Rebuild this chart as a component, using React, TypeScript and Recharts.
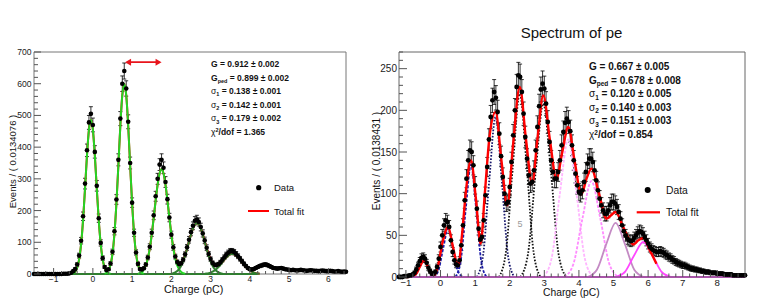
import React from "react";
import {
  ComposedChart,
  ErrorBar,
  Line,
  ReferenceArea,
  ReferenceLine,
  Scatter,
  XAxis,
  YAxis,
} from "recharts";

const FONT = '"Liberation Sans", Arial, Helvetica, sans-serif';
const STEP = 0.05;

// ---------- left panel (gain fit, green components) ----------
const L_DATA_START = -1.5;
const L_DATA = [
  0, 0, 0, 0, 0, 0, 0, 0, 0, 0,
  0, 0, 0, 0, 0, 1, 1, 1, 2, 4,
  9, 16, 30, 58, 105, 182, 285, 390, 478, 505,
  470, 385, 278, 176, 98, 50, 22, 12, 15, 33,
  70, 135, 235, 360, 490, 600, 640, 585, 480, 350,
  225, 130, 68, 32, 16, 14, 18, 30, 52, 86,
  130, 185, 245, 300, 345, 360, 335, 290, 236, 178,
  124, 84, 55, 38, 31, 34, 45, 62, 84, 108,
  132, 152, 168, 172, 164, 148, 128, 106, 83, 63,
  47, 35, 29, 28, 31, 37, 45, 53, 61, 67,
  72, 72, 69, 63, 56, 48, 40, 32, 25, 19,
  15, 14, 16, 19, 22, 25, 27, 29, 30, 28,
  25, 22, 19, 18, 17, 18, 19, 17, 15, 14,
  13, 12, 13, 12, 11, 12, 13, 12, 11, 10,
  11, 12, 11, 10, 10, 9, 10, 11, 10, 9,
  9, 10, 9, 8, 8, 9, 8, 7, 8, 7,
];

const L_FIT_START = -0.6;
const L_FIT = [
  0.2, 0.7, 2.4, 7.3, 19.5, 46, 94, 170, 269, 374,
  455, 486, 455, 374, 269, 170, 94, 46, 21, 11,
  14, 30, 64, 127, 223, 343, 468, 564, 600, 564,
  468, 343, 223, 127, 64, 30, 14, 11, 15, 27,
  49, 81, 124, 177, 232, 282, 317, 330, 317, 282,
  232, 178, 125, 84, 54, 36, 30, 33, 43, 59,
  79, 102, 124, 143, 156, 160, 156, 143, 125, 103,
  81, 61, 45, 33, 27, 25, 27, 32, 38, 45,
  52, 58, 62, 63, 62, 58, 52, 45, 37, 29,
  22, 16, 11, 7.2, 4.5, 2.8, 1.6, 0.9,
];

const L_PED_START = -0.55;
const L_PED = [0.7, 2.4, 7.3, 19.5, 46, 94, 170, 269, 374, 455, 486, 455, 374, 269, 170, 94, 46, 19.5, 7.3, 2.4, 0.7];
const L_PE1_START = 0.3;
const L_PE1 = [1.2, 4, 11.4, 29, 64, 127, 223, 343, 468, 564, 600, 564, 468, 343, 223, 127, 64, 29, 11.4, 4, 1.2];
const L_PE2_START = 1.15;
const L_PE2 = [1.2, 2.9, 6.6, 14, 27, 49, 81, 124, 177, 232, 282, 317, 330, 317, 282, 232, 177, 124, 81, 49, 27, 14, 6.6, 2.9, 1.2];
const L_PE3_START = 2.0;
const L_PE3 = [1.3, 2.7, 5.2, 9.4, 16, 26, 40, 58, 79, 102, 124, 143, 156, 160, 156, 143, 124, 102, 79, 58, 40, 26, 16, 9.4, 5.2, 2.7, 1.3];
const L_PE4_START = 2.85;
const L_PE4 = [0.9, 1.6, 2.8, 4.5, 7.2, 11, 16, 22, 29, 37, 45, 52, 58, 62, 63, 62, 58, 52, 45, 37, 29, 22, 16, 11, 7.2, 4.5, 2.8, 1.6, 0.9];
const L_BASE_X = [-0.6, 4.2];

const L_STATS = [
  ["G", "", " = 0.912 ± 0.002"],
  ["G", "ped", " = 0.899 ± 0.002"],
  ["σ", "1", " = 0.138 ± 0.001"],
  ["σ", "2", " = 0.142 ± 0.001"],
  ["σ", "3", " = 0.179 ± 0.002"],
  ["χ", "^2", "/dof = 1.365"],
];
const L_ARROW_X = [0.82, 1.75];
const L_ARROW_Y = 668;

// ---------- right panel (spectrum of pe) ----------
const R_DATA_START = -1.2;
const R_DATA = [
  0, 0, 0, 1, 1, 1, 2, 2, 3, 5,
  9, 14, 19, 23, 24, 22, 17, 11, 7, 4,
  4, 6, 12, 22, 36, 50, 62, 68, 66, 60,
  44, 30, 20, 15, 14, 20, 38, 62, 92, 118,
  140, 152, 150, 134, 110, 82, 58, 45, 48, 68,
  98, 132, 165, 192, 212, 222, 215, 198, 172, 145,
  120, 100, 88, 90, 108, 138, 170, 200, 228, 242,
  240, 222, 196, 168, 142, 122, 112, 114, 128, 152,
  180, 205, 225, 232, 226, 208, 186, 162, 140, 126,
  118, 118, 126, 140, 158, 174, 185, 190, 186, 175,
  158, 140, 124, 110, 102, 100, 104, 114, 126, 136,
  142, 142, 138, 128, 116, 104, 94, 86, 80, 76,
  76, 80, 86, 90, 90, 88, 84, 78, 70, 62,
  55, 50, 46, 44, 43, 44, 47, 50, 53, 55,
  54, 52, 48, 44, 40, 36, 34, 32, 31, 30,
  30, 31, 30, 29, 27, 26, 24, 23, 21, 20,
  18, 17, 16, 15, 14, 14, 13, 12, 11, 10,
  10, 9, 9, 8, 8, 7, 7, 6, 6, 6,
  5, 5, 5, 5, 4, 4, 4, 4, 3, 3,
  3, 3, 3, 2, 2, 2, 2, 2, 2, 2,
  2,
];

const R_FIT = [
  [-1.0, 0], [-0.8, 0.5], [-0.7, 4], [-0.6, 12], [-0.48, 20], [-0.36, 12], [-0.26, 4],
  [-0.18, 2], [-0.08, 12], [0.05, 40], [0.22, 60], [0.36, 36], [0.51, 13], [0.62, 50],
  [0.74, 105], [0.88, 140], [1.02, 95], [1.16, 40], [1.28, 100], [1.42, 170], [1.59, 198],
  [1.76, 140], [1.93, 86], [2.1, 160], [2.29, 228], [2.47, 165], [2.65, 112], [2.8, 165],
  [2.97, 218], [3.16, 165], [3.35, 118], [3.52, 150], [3.69, 180], [3.88, 138], [4.07, 99],
  [4.22, 118], [4.36, 130], [4.58, 100], [4.8, 70], [4.93, 74], [5.06, 78], [5.3, 58],
  [5.57, 39], [5.72, 44], [5.86, 47], [6.05, 32], [6.24, 16],
];

const R_PE0 = [[-0.84, 0], [-0.72, 2.7], [-0.6, 12.1], [-0.48, 20], [-0.36, 12.1], [-0.24, 2.7], [-0.12, 0]];
const R_PE1 = [[-0.2, 0], [-0.06, 7.8], [0.08, 35.2], [0.22, 58], [0.36, 35.2], [0.5, 7.8], [0.64, 0]];
const R_PE2 = [[0.43, 0], [0.58, 18.2], [0.73, 81.9], [0.88, 135], [1.03, 81.9], [1.18, 18.2], [1.33, 0]];
const R_PE3 = [[1.05, 0], [1.23, 25.9], [1.41, 116.5], [1.59, 192], [1.77, 116.5], [1.95, 25.9], [2.13, 0]];
const R_PE4 = [[1.69, 0], [1.89, 29.7], [2.09, 133.5], [2.29, 220], [2.49, 133.5], [2.69, 29.7], [2.89, 0]];
const R_PE5 = [[2.31, 0], [2.53, 28.1], [2.75, 126.3], [2.97, 208], [3.19, 126.3], [3.41, 28.1], [3.63, 0]];
const R_PE6 = [[2.97, 0], [3.21, 22.3], [3.45, 100.2], [3.69, 165], [3.93, 100.2], [4.17, 22.3], [4.41, 0]];
const R_PE7 = [[3.58, 0], [3.84, 15.5], [4.1, 69.8], [4.36, 115], [4.62, 69.8], [4.88, 15.5], [5.14, 0]];
const R_PE8 = [[4.25, 0], [4.52, 8.8], [4.79, 39.5], [5.06, 65], [5.33, 39.5], [5.6, 8.8], [5.87, 0]];
const R_PE9 = [[5.05, 0], [5.32, 5.7], [5.59, 25.5], [5.86, 42], [6.13, 25.5], [6.4, 5.7], [6.67, 0]];
const R_BASE_X = [-1.2, 8.8];

const R_STATS = [
  ["G", "", " = 0.667 ± 0.005"],
  ["G", "ped", " = 0.678 ± 0.008"],
  ["σ", "1", " = 0.120 ± 0.005"],
  ["σ", "2", " = 0.140 ± 0.003"],
  ["σ", "3", " = 0.151 ± 0.003"],
  ["χ", "^2", "/dof = 0.854"],
];

// ---------- helpers ----------
const r3 = (v: number) => Math.round(v * 1000) / 1000;
const fromGrid = (start: number, ys: number[]) =>
  ys.map((y, i) => ({ x: r3(start + i * STEP), y }));
const fromPairs = (list: number[][]) => list.map(([x, y]) => ({ x, y }));
const withErr = (pts: { x: number; y: number }[]) =>
  pts.map((p) => ({ ...p, err: Math.sqrt(p.y) }));
const flat = (xs: number[]) => xs.map((x) => ({ x, y: 0 }));
const range = (from: number, count: number, step: number) =>
  Array.from({ length: count }, (_, i) => r3(from + i * step));

const leftPts = withErr(fromGrid(L_DATA_START, L_DATA));
const leftFit = fromGrid(L_FIT_START, L_FIT);
const leftComps = [
  fromGrid(L_PED_START, L_PED),
  fromGrid(L_PE1_START, L_PE1),
  fromGrid(L_PE2_START, L_PE2),
  fromGrid(L_PE3_START, L_PE3),
  fromGrid(L_PE4_START, L_PE4),
];
const leftCompColors = ["#25d425", "#25d425", "#25d425", "#2f7f2f", "#2f7f2f"];

const rightPts = withErr(fromGrid(R_DATA_START, R_DATA));
const rightFit = fromPairs(R_FIT);
const rightComps = [R_PE0, R_PE1, R_PE2, R_PE3, R_PE4, R_PE5, R_PE6, R_PE7, R_PE8, R_PE9].map(fromPairs);
const rightCompStyles = [
  { stroke: "#1c1caa", dash: "3 1.5" },
  { stroke: "#1c1caa", dash: "3 1.5" },
  { stroke: "#1c1caa", dash: "3 1.5" },
  { stroke: "#16166a", dash: "1.6 1.6" },
  { stroke: "#111111", dash: "1.6 1.6" },
  { stroke: "#111111", dash: "1.6 1.6" },
  { stroke: "#ffb6ff", dash: "3 1.5" },
  { stroke: "#ff8cff", dash: "3 1.5" },
  { stroke: "#c48ac4", dash: undefined },
  { stroke: "#ff48ff", dash: undefined },
];

const fmt = (v: number) => (v < 0 ? `\u2212${Math.abs(v)}` : `${v}`);
const isMult = (v: number, m: number) => Math.abs(v / m - Math.round(v / m)) < 1e-6;

type TickOpts = { major: number; size: number; len: number; minor: number; gap: number };

const yTick = (o: TickOpts) => (props: any) => {
  const { x, y, payload } = props;
  const v = payload.value;
  const major = isMult(v, o.major);
  return (
    <g>
      <line x1={x} x2={x + (major ? o.len : o.minor)} y1={y} y2={y} stroke="#555" strokeWidth={1} />
      {major && (
        <text x={x - o.gap} y={y} dy="0.35em" textAnchor="end" fontSize={o.size} fontFamily={FONT} fill="#222">
          {fmt(v)}
        </text>
      )}
    </g>
  );
};

const xTick = (o: TickOpts) => (props: any) => {
  const { x, y, payload } = props;
  const v = payload.value;
  const major = isMult(v, o.major);
  return (
    <g>
      <line x1={x} x2={x} y1={y} y2={y - (major ? o.len : o.minor)} stroke="#555" strokeWidth={1} />
      {major && (
        <text x={x} y={y + o.gap} dy="0.71em" textAnchor="middle" fontSize={o.size} fontFamily={FONT} fill="#222">
          {fmt(v)}
        </text>
      )}
    </g>
  );
};

const dotShape = (r: number) => (p: any) => <circle cx={p.cx} cy={p.cy} r={r} fill="#000" />;

const Arrow = (p: any) => {
  const { x1, y1, x2 } = p;
  const h = 6;
  const w = 3.5;
  return (
    <g>
      <line x1={x1 + 2} x2={x2 - 2} y1={y1} y2={y1} stroke="#e8141c" strokeWidth={1.6} />
      <polygon points={`${x1},${y1} ${x1 + h},${y1 - w} ${x1 + h},${y1 + w}`} fill="#e8141c" />
      <polygon points={`${x2},${y1} ${x2 - h},${y1 - w} ${x2 - h},${y1 + w}`} fill="#e8141c" />
    </g>
  );
};

function Stats({ x, y, step, size, lines }: { x: number; y: number; step: number; size: number; lines: string[][] }) {
  return (
    <g fontFamily={FONT} fontSize={size} fontWeight="bold" fill="#111">
      {lines.map(([base, idx, rest], i) => {
        const sup = idx.startsWith("^");
        const small = size * 0.65;
        const shift = sup ? -size * 0.3 : size * 0.25;
        return (
          <text key={i} x={x} y={y + i * step}>
            <tspan fontWeight={base === "G" ? "bold" : "normal"}>{base}</tspan>
            {idx && (
              <tspan fontSize={small} dy={shift}>
                {sup ? idx.slice(1) : idx}
              </tspan>
            )}
            <tspan dy={idx ? -shift : 0}>{rest}</tspan>
          </text>
        );
      })}
    </g>
  );
}

const L_XTICKS = range(-1.4, 40, 0.2);
const L_YTICKS = range(0, 36, 20);
const R_XTICKS = range(-1.2, 51, 0.2);
const R_YTICKS = range(0, 28, 10);

export default function App() {
  return (
    <div style={{ position: "absolute", left: 0, top: 0, width: 763, height: 305, background: "#fff" }}>
      <div style={{ position: "absolute", left: 0, top: 0 }}>
        <ComposedChart width={360} height={305} margin={{ top: 52, right: 14, bottom: 30, left: 33 }}>
          <XAxis
            type="number"
            dataKey="x"
            domain={[-1.5, 6.45]}
            ticks={L_XTICKS}
            interval={0}
            height={1}
            tickSize={0}
            tickMargin={0}
            tickLine={false}
            axisLine={false}
            tick={xTick({ major: 1, size: 8.5, len: 6, minor: 3, gap: 2 })}
          />
          <YAxis
            type="number"
            dataKey="y"
            domain={[0, 700]}
            ticks={L_YTICKS}
            interval={0}
            width={1}
            tickSize={0}
            tickMargin={0}
            tickLine={false}
            axisLine={false}
            tick={yTick({ major: 100, size: 8.6, len: 7, minor: 4, gap: 2.5 })}
          />
          <ReferenceArea x1={-1.5} x2={6.45} y1={0} y2={700} fill="none" stroke="#777" strokeWidth={1} />
          <Scatter data={leftPts} dataKey="y" shape={dotShape(2.3)} isAnimationActive={false}>
            <ErrorBar dataKey="err" direction="y" width={2} stroke="#000" strokeWidth={0.8} isAnimationActive={false} />
          </Scatter>
          <Line data={leftFit} dataKey="y" type="monotone" stroke="#ff0000" strokeWidth={2} dot={false} activeDot={false} isAnimationActive={false} />
          <Line data={flat(L_BASE_X)} dataKey="y" stroke="#2f7f2f" strokeWidth={2} dot={false} activeDot={false} isAnimationActive={false} />
          {leftComps.map((c, i) => (
            <Line
              key={i}
              data={c}
              dataKey="y"
              type="monotone"
              stroke={leftCompColors[i]}
              strokeWidth={2}
              dot={false}
              activeDot={false}
              isAnimationActive={false}
            />
          ))}
          <ReferenceLine
            segment={[
              { x: L_ARROW_X[0], y: L_ARROW_Y },
              { x: L_ARROW_X[1], y: L_ARROW_Y },
            ]}
            stroke="#e8141c"
            shape={Arrow}
          />
        </ComposedChart>
      </div>

      <div style={{ position: "absolute", left: 360, top: 0 }}>
        <ComposedChart width={403} height={305} margin={{ top: 52, right: 18, bottom: 27, left: 38 }}>
          <XAxis
            type="number"
            dataKey="x"
            domain={[-1.2, 8.8]}
            ticks={R_XTICKS}
            interval={0}
            height={1}
            tickSize={0}
            tickMargin={0}
            tickLine={false}
            axisLine={false}
            tick={xTick({ major: 1, size: 9.7, len: 7, minor: 3.5, gap: 2 })}
          />
          <YAxis
            type="number"
            dataKey="y"
            domain={[0, 270]}
            ticks={R_YTICKS}
            interval={0}
            width={1}
            tickSize={0}
            tickMargin={0}
            tickLine={false}
            axisLine={false}
            tick={yTick({ major: 50, size: 10, len: 8, minor: 4, gap: 2 })}
          />
          <ReferenceArea x1={-1.2} x2={8.8} y1={0} y2={270} fill="none" stroke="#666" strokeWidth={1} />
          <Scatter data={rightPts} dataKey="y" shape={dotShape(2.4)} isAnimationActive={false}>
            <ErrorBar dataKey="err" direction="y" width={2} stroke="#000" strokeWidth={0.8} isAnimationActive={false} />
          </Scatter>
          {rightComps.map((c, i) => (
            <Line
              key={i}
              data={c}
              dataKey="y"
              type="monotone"
              stroke={rightCompStyles[i].stroke}
              strokeDasharray={rightCompStyles[i].dash}
              strokeWidth={1.8}
              dot={false}
              activeDot={false}
              isAnimationActive={false}
            />
          ))}
          <Line data={rightFit} dataKey="y" type="monotone" stroke="#ff0000" strokeWidth={2.4} dot={false} activeDot={false} isAnimationActive={false} />
          <Line data={flat(R_BASE_X)} dataKey="y" stroke="#a855a8" strokeWidth={2.2} dot={false} activeDot={false} isAnimationActive={false} />
        </ComposedChart>
      </div>

      <svg width={763} height={305} style={{ position: "absolute", left: 0, top: 0, pointerEvents: "none" }}>
        <text x={571.5} y={38} textAnchor="middle" fontFamily={FONT} fontSize={15} fill="#111">
          Spectrum of pe
        </text>

        <Stats x={211} y={67} step={13.6} size={8.5} lines={L_STATS} />
        <Stats x={589} y={70} step={13.6} size={10} lines={R_STATS} />

        <g fontFamily={FONT} fill="#111">
          <circle cx={258.7} cy={187.7} r={2.6} fill="#000" />
          <text x={274} y={191} fontSize={9.5}>Data</text>
          <line x1={248} x2={269} y1={211} y2={211} stroke="#ff0000" strokeWidth={2} />
          <text x={274} y={214.5} fontSize={9.5}>Total fit</text>

          <circle cx={647.7} cy={190} r={3} fill="#000" />
          <text x={666} y={193.5} fontSize={10.3}>Data</text>
          <line x1={636.7} x2={660} y1={212.3} y2={212.3} stroke="#ff0000" strokeWidth={2.2} />
          <text x={666} y={216} fontSize={10.3}>Total fit</text>

          <text x={520} y={227} fontSize={9} fill="#999" textAnchor="middle">5</text>

          <text x={164} y={293.4} fontSize={10.8}>Charge (pC)</text>
          <text x={543} y={295.7} fontSize={10.3}>Charge (pC)</text>

          <text transform="translate(16,161.5) rotate(-90)" textAnchor="middle" fontSize={9.5}>
            Events / ( 0.0134076 )
          </text>
          <text transform="translate(379.5,161) rotate(-90)" textAnchor="middle" fontSize={10}>
            Events / ( 0.0138431 )
          </text>
        </g>
      </svg>
    </div>
  );
}
